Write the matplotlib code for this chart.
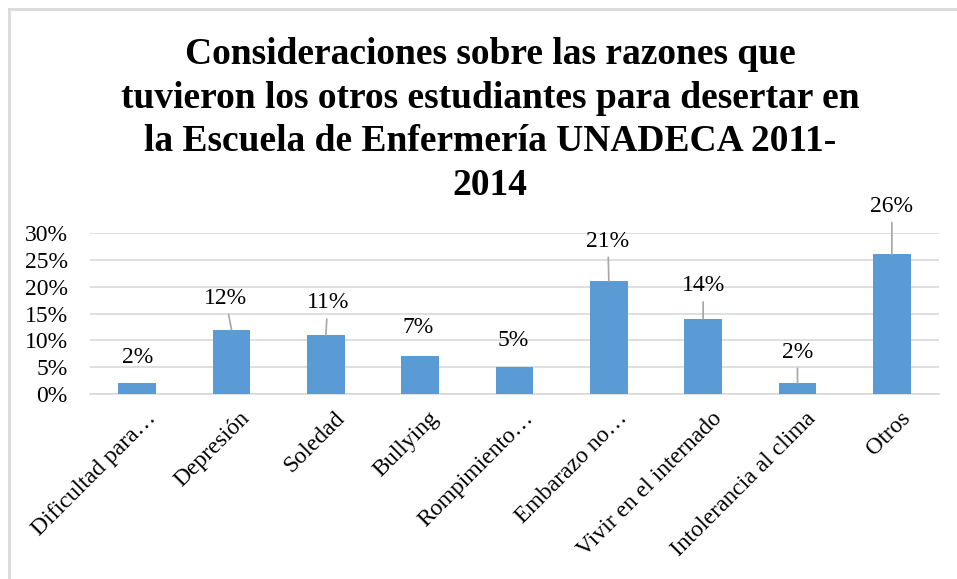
import matplotlib
matplotlib.use('Agg')
import matplotlib.pyplot as plt
import matplotlib.transforms as mtransforms
from matplotlib.lines import Line2D
from matplotlib.ticker import PercentFormatter

# data
categories = ['Dificultad para…', 'Depresión', 'Soledad', 'Bullying', 'Rompimiento…',
              'Embarazo no…', 'Vivir en el internado', 'Intolerancia al clima', 'Otros']
values = [0.02, 0.12, 0.11, 0.07, 0.05, 0.21, 0.14, 0.02, 0.26]
value_labels = ['2%', '12%', '11%', '7%', '5%', '21%', '14%', '2%', '26%']

# label placement (pixels from bar top) and which ones have a leader line
label_dx = [0, -6, 2, -2, -1, -1, 0, 0, 0]
label_dy = [26, 31, 32, 29, 27, 40, 33, 31, 48]
has_leader = [False, True, True, False, False, True, True, True, True]

title = ('Consideraciones sobre las razones que\n'
         'tuvieron los otros estudiantes para desertar en\n'
         'la Escuela de Enfermería UNADECA 2011-\n'
         '2014')

plt.rcParams['font.family'] = ['Liberation Serif', 'DejaVu Serif']

W, H = 957, 579
fig = plt.figure(figsize=(W / 100, H / 100), dpi=100)

# outer chart border (only top and left visible in the crop)
fig.add_artist(Line2D([8.5 / W, 8.5 / W], [0, 1 - 8.5 / H], transform=fig.transFigure,
                      color='#D9D9D9', lw=2))
fig.add_artist(Line2D([8.5 / W, 1], [1 - 8.5 / H, 1 - 8.5 / H], transform=fig.transFigure,
                      color='#D9D9D9', lw=2))

ax = fig.add_axes([90 / W, 1 - 394 / H, (939 - 90) / W, (394 - 233) / H])
x = list(range(len(categories)))
ax.bar(x, values, width=0.4, color='#5B9BD5', zorder=3)

ax.set_xlim(-0.5, len(categories) - 0.5)
ax.set_ylim(0, 0.30)
ax.set_yticks([0, 0.05, 0.10, 0.15, 0.20, 0.25, 0.30])
ax.yaxis.set_major_formatter(PercentFormatter(1.0, decimals=0))
ax.grid(axis='y', color='#D9D9D9', lw=1.2, zorder=0)
for s in ['top', 'right', 'left']:
    ax.spines[s].set_visible(False)
ax.spines['bottom'].set_color('#D9D9D9')
ax.spines['bottom'].set_linewidth(1.2)
ax.tick_params(axis='both', length=0, labelsize=17)
ax.tick_params(axis='y', pad=16)
ax.tick_params(axis='x', pad=10)

ax.set_xticks(x)
ax.set_xticklabels(categories, rotation=45, ha='right', va='top', rotation_mode='anchor')
shift = mtransforms.ScaledTranslation(0.08, 0, fig.dpi_scale_trans)
for lbl in ax.get_xticklabels():
    lbl.set_transform(lbl.get_transform() + shift)

for i, v in enumerate(values):
    arrow = None
    if has_leader[i]:
        arrow = dict(arrowstyle='-', color='#A6A6A6', lw=1.2, shrinkA=2, shrinkB=0)
    ax.annotate(value_labels[i], xy=(i, v),
                xytext=(label_dx[i] * 0.72, label_dy[i] * 0.72), textcoords='offset points',
                ha='center', va='center', fontsize=17, arrowprops=arrow, zorder=4)

fig.text(490 / W, 1 - 120 / H, title, ha='center', va='center', fontsize=27,
         fontweight='bold', linespacing=1.32)

fig.savefig('out.png', dpi=100)
